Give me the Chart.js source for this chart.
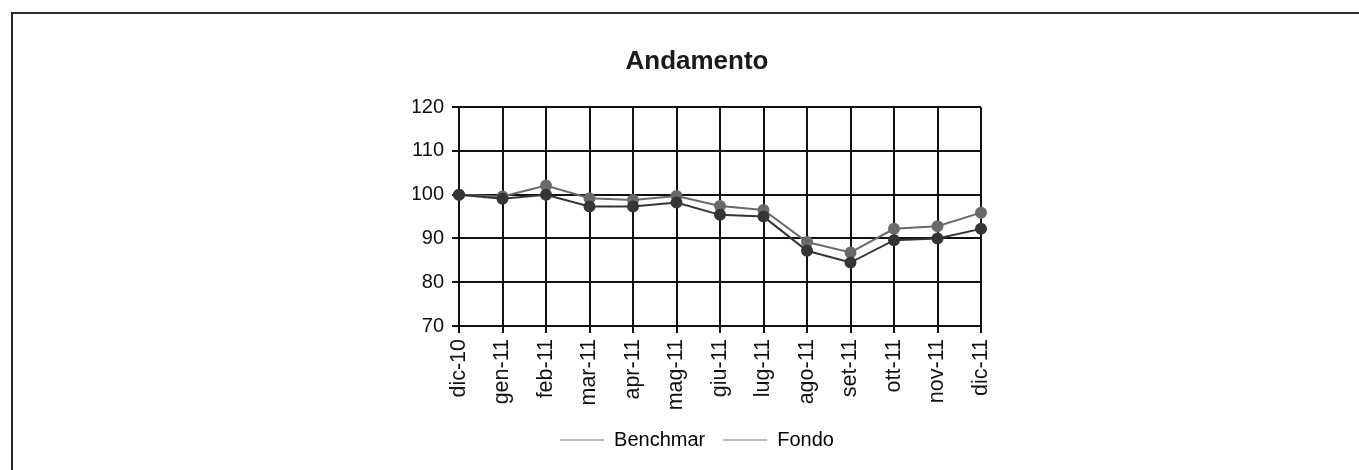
<!DOCTYPE html>
<html>
<head>
<meta charset="utf-8">
<script src="https://cdn.jsdelivr.net/npm/chart.js@4"></script>
<style>
  html, body { margin: 0; padding: 0; background: #fff; }
  #wrap { position: absolute; left: 0; top: 0; width: 1359px; height: 470px; }
  #frame { position: absolute; left: 11px; top: 12px; width: 1360px; height: 470px;
           border-left: 2px solid #2a2a2a; border-top: 2px solid #2a2a2a; }
  canvas { position: absolute; left: 0; top: 0; }
</style>
</head>
<body>
<div id="wrap">
  <div id="frame"></div>
  <canvas id="c" width="1359" height="470"></canvas>
</div>
<script>
const categories = ["dic-10","gen-11","feb-11","mar-11","apr-11","mag-11","giu-11","lug-11","ago-11","set-11","ott-11","nov-11","dic-11"];
const benchmark = [100, 99.6, 102.1, 99.2, 98.8, 99.7, 97.4, 96.5, 89.2, 86.8, 92.2, 92.8, 95.9];
const fondo = [100, 99.1, 100, 97.3, 97.3, 98.2, 95.4, 95.0, 87.2, 84.5, 89.6, 90.0, 92.2];
const yTicks = [70, 80, 90, 100, 110, 120];
const seriesNames = ["Benchmar", "Fondo"];

const FONT = "'Liberation Sans', Arial, Helvetica, sans-serif";

new Chart(document.getElementById('c'), {
  type: 'line',
  data: {
    labels: categories,
    datasets: [
      { label: seriesNames[0], data: benchmark, borderColor: '#6a6a6a', backgroundColor: '#6a6a6a',
        borderWidth: 2, pointRadius: 5, pointHoverRadius: 5, tension: 0, order: 2 },
      { label: seriesNames[1], data: fondo, borderColor: '#353535', backgroundColor: '#353535',
        borderWidth: 2, pointRadius: 5, pointHoverRadius: 5, tension: 0, order: 1 }
    ]
  },
  options: {
    responsive: false,
    animation: false,
    layout: { padding: { left: 413, right: 378, top: 32, bottom: 10 } },
    plugins: {
      title: {
        display: true, text: 'Andamento', color: '#1a1a1a',
        font: { family: FONT, size: 26, weight: 'bold' },
        padding: { top: 14, bottom: 30 }
      },
      legend: {
        position: 'bottom',
        labels: {
          color: '#111', font: { family: FONT, size: 20 }, padding: 18,
          boxWidth: 44, boxHeight: 1,
          generateLabels: (chart) => chart.data.datasets.map((ds, i) => ({
            text: ds.label, fillStyle: '#777', strokeStyle: '#777', lineWidth: 0,
            hidden: false, datasetIndex: i
          }))
        }
      },
      tooltip: { enabled: false }
    },
    scales: {
      x: {
        offset: false,
        grid: { color: '#111', lineWidth: 2, tickLength: 7, drawTicks: true },
        border: { color: '#111', width: 2 },
        ticks: { color: '#111', font: { family: FONT, size: 21.5 }, minRotation: 90, maxRotation: 90, padding: 6, autoSkip: false },
        afterFit: (s) => { s.height = 86; }
      },
      y: {
        min: 70, max: 120,
        afterBuildTicks: (s) => { s.ticks = yTicks.map(v => ({ value: v })); },
        grid: { color: '#111', lineWidth: 2, tickLength: 7 },
        border: { color: '#111', width: 2 },
        ticks: { color: '#111', font: { family: FONT, size: 20 }, padding: 8 },
        afterFit: (s) => { s.width = 46; }
      }
    }
  }
});
</script>
</body>
</html>
